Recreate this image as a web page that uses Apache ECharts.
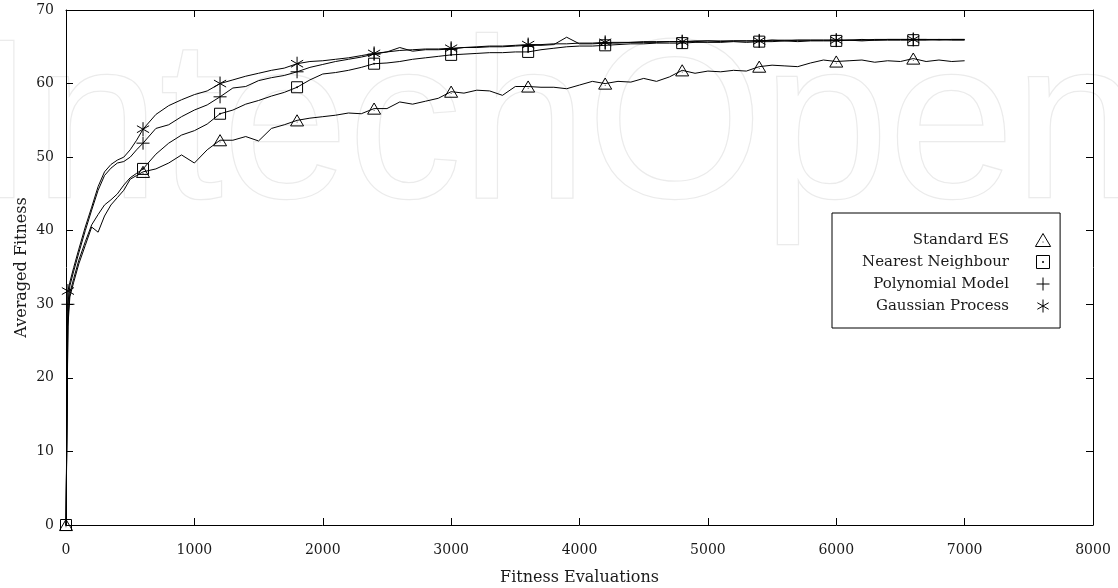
<!DOCTYPE html>
<html>
<head>
<meta charset="utf-8">
<script src="https://cdn.jsdelivr.net/npm/echarts@6/dist/echarts.min.js"></script>
<style>
html,body{margin:0;padding:0;background:#fff;}
#c{width:1118px;height:588px;}
</style>
</head>
<body>
<div id="c"></div>
<script>
// ---- data ----
const X = [0, 15, 30, 60, 100, 150, 200, 250, 300, 350, 400, 450, 500, 550, 600,
  700, 800, 900, 1000, 1100, 1200, 1300, 1400, 1500, 1600,
  1700, 1800, 1900, 2000, 2100, 2200, 2300, 2400, 2500, 2600,
  2700, 2800, 2900, 3000, 3100, 3200, 3300, 3400, 3500, 3600,
  3700, 3800, 3900, 4000, 4100, 4200, 4300, 4400, 4500, 4600,
  4700, 4800, 4900, 5000, 5100, 5200, 5300, 5400, 5500, 5600,
  5700, 5800, 5900, 6000, 6100, 6200, 6300, 6400, 6500, 6600,
  6700, 6800, 6900, 7000];

const standardES = [0, 27, 31, 33, 35.5, 38, 40.5, 39.8, 42.0, 43.5, 44.5, 45.5, 47.0, 47.5, 48.0,
  48.4, 49.2, 50.3, 49.2, 51.0, 52.3, 52.3, 52.8, 52.2, 53.9,
  54.4, 55.0, 55.3, 55.5, 55.7, 56.0, 55.9, 56.6, 56.6, 57.5,
  57.2, 57.6, 58.0, 58.9, 58.7, 59.1, 59.0, 58.4, 59.6, 59.6,
  59.5, 59.5, 59.3, 59.8, 60.3, 60.0, 60.3, 60.2, 60.7, 60.3,
  60.9, 61.8, 61.4, 61.7, 61.6, 61.8, 61.7, 62.3, 62.5, 62.4,
  62.3, 62.8, 63.2, 63.0, 63.1, 63.2, 62.9, 63.1, 63.0, 63.4,
  63.0, 63.2, 63.0, 63.1];

const nearestNeighbour = [0, 28, 31.5, 33.5, 36, 38.5, 40.8, 42.2, 43.5, 44.2, 45.0, 46.2, 47.2, 47.8, 48.4,
  50.4, 51.9, 53.0, 53.6, 54.5, 55.9, 56.4, 57.2, 57.7, 58.3,
  58.8, 59.5, 60.5, 61.3, 61.5, 61.8, 62.2, 62.7, 62.8, 63.0,
  63.3, 63.5, 63.7, 63.9, 64.0, 64.1, 64.2, 64.2, 64.3, 64.3,
  64.6, 64.8, 65.0, 65.1, 65.1, 65.2, 65.3, 65.4, 65.4, 65.5,
  65.5, 65.5, 65.6, 65.6, 65.6, 65.7, 65.6, 65.7, 65.7, 65.8,
  65.7, 65.8, 65.8, 65.8, 65.9, 65.8, 65.9, 65.9, 65.9, 65.9,
  65.9, 66.0, 65.9, 65.9];

const polynomialModel = [0, 30, 32.5, 34.5, 37, 40, 42.8, 45.5, 47.5, 48.5, 49.2, 49.4, 50.0, 51.0, 51.9,
  53.9, 54.4, 55.5, 56.4, 57.1, 58.2, 59.4, 59.6, 60.4, 60.8,
  61.1, 61.6, 62.2, 62.6, 63.0, 63.3, 63.6, 64.0, 64.3, 64.9,
  64.4, 64.6, 64.6, 64.7, 64.9, 64.9, 65.0, 65.0, 65.1, 65.2,
  65.2, 65.3, 66.3, 65.4, 65.4, 65.5, 65.5, 65.6, 65.6, 65.6,
  65.7, 65.7, 65.7, 65.8, 65.7, 65.8, 65.8, 65.8, 65.9, 65.8,
  65.9, 65.9, 65.9, 65.9, 65.9, 66.0, 65.9, 66.0, 66.0, 66.0,
  66.0, 65.9, 66.0, 66.0];

const gaussianProcess = [0, 31.8, 33, 35, 37.5, 40.5, 43.2, 46, 48.0, 49.0, 49.6, 50.0, 51.0, 52.3, 53.8,
  55.8, 57.0, 57.8, 58.5, 59.0, 60.0, 60.5, 61.0, 61.4, 61.8,
  62.1, 62.7, 63.0, 63.1, 63.3, 63.5, 63.8, 64.1, 64.3, 64.5,
  64.6, 64.7, 64.7, 64.8, 64.9, 65.0, 65.1, 65.1, 65.2, 65.3,
  65.3, 65.4, 65.4, 65.5, 65.5, 65.6, 65.6, 65.6, 65.7, 65.7,
  65.7, 65.7, 65.8, 65.8, 65.8, 65.8, 65.8, 65.8, 65.9, 65.9,
  65.9, 65.9, 65.9, 65.9, 65.9, 65.9, 66.0, 66.0, 66.0, 66.0,
  66.0, 66.0, 66.0, 66.0];

const seriesNames = ['Standard ES', 'Nearest Neighbour', 'Polynomial Model', 'Gaussian Process'];
const markerXA = [0, 600, 1200, 1800, 2400, 3000, 3600, 4200, 4800, 5400, 6000, 6600];
const markerXB = [15, 600, 1200, 1800, 2400, 3000, 3600, 4200, 4800, 5400, 6000, 6600];
const xTicks = [0, 8000, 1000];
const yTicks = [0, 70, 10];

// ---- style ----
const FONT = "'DejaVu Serif', serif";
const TXT = '#1a1a1a';
const SYM = {
  tri: 'path://M0,-1.1 L1.05,0.7 L-1.05,0.7 Z M-0.06,0.08 L0.06,0.08',
  sq: 'path://M-1,-1 L1,-1 L1,1 L-1,1 Z M-0.08,-0.08 L0.08,-0.08 L0.08,0.08 L-0.08,0.08 Z',
  plus: 'path://M0,-1 L0,1 M-1,0 L1,0',
  star: 'path://M0,-1 L0,1 M-0.87,-0.5 L0.87,0.5 M-0.87,0.5 L0.87,-0.5'
};
const symbols = [SYM.tri, SYM.sq, SYM.plus, SYM.star];
const sizes = [13, 11, 13, 14];
const values = [standardES, nearestNeighbour, polynomialModel, gaussianProcess];
const markerSets = [markerXA, markerXA, markerXB, markerXB];

const series = seriesNames.map((name, k) => {
  const set = new Set(markerSets[k]);
  return {
    name: name,
    type: 'line',
    xAxisIndex: 0,
    yAxisIndex: 0,
    data: X.map((x, i) => [x, values[k][i]]),
    symbol: (v) => set.has(v[0]) ? symbols[k] : 'none',
    symbolSize: sizes[k],
    symbolKeepAspect: true,
    showSymbol: true,
    showAllSymbol: true,
    lineStyle: { color: '#000', width: 1 },
    itemStyle: { color: 'rgba(0,0,0,0)', borderColor: '#000', borderWidth: 1 },
    emphasis: { disabled: true },
    z: 3
  };
});

function axisCommon(t) {
  return {
    type: 'value', min: t[0], max: t[1], interval: t[2],
    axisLine: { show: true, onZero: false, lineStyle: { color: '#000', width: 1 } },
    axisTick: { show: true, inside: true, length: 7, lineStyle: { color: '#000', width: 1 } },
    splitLine: { show: false }
  };
}

const chart = echarts.init(document.getElementById('c'), null, { renderer: 'canvas' });
chart.setOption({
  animation: false,
  backgroundColor: '#fff',
  grid: { left: 66, right: 25, top: 10, bottom: 63, show: false,
    containLabel: false, outerBoundsMode: 'none' },
  graphic: [{
    type: 'text', left: -30, top: 20, z: -10, silent: true,
    style: { text: 'IntechOpen', font: "226px 'Liberation Sans', sans-serif",
      fill: '#ffffff', stroke: '#ebebeb', lineWidth: 2.5 }
  }],
  xAxis: [
    Object.assign(axisCommon(xTicks), {
      position: 'bottom',
      axisLabel: { show: true, margin: 18, fontFamily: FONT, fontSize: 14, color: TXT,
        formatter: (v) => String(v) },
      name: 'Fitness Evaluations', nameLocation: 'middle', nameGap: 45, nameMoveOverlap: false,
      nameTextStyle: { fontFamily: FONT, fontSize: 16, color: TXT }
    }),
    Object.assign(axisCommon(xTicks), { position: 'top', axisLabel: { show: false } })
  ],
  yAxis: [
    Object.assign(axisCommon(yTicks), {
      position: 'left',
      axisLabel: { show: true, margin: 12, fontFamily: FONT, fontSize: 14, color: TXT,
        formatter: (v) => String(v) },
      name: 'Averaged Fitness', nameLocation: 'middle', nameGap: 36, nameMoveOverlap: false,
      nameTextStyle: { fontFamily: FONT, fontSize: 16, color: TXT }
    }),
    Object.assign(axisCommon(yTicks), { position: 'right', axisLabel: { show: false } })
  ],
  legend: {
    orient: 'vertical', left: 832, top: 213, align: 'right',
    itemWidth: 58, itemHeight: 13, itemGap: 4,
    padding: [18, 9, 13, 30],
    borderColor: '#000', borderWidth: 1, backgroundColor: '#fff',
    symbolKeepAspect: true,
    itemStyle: { color: 'rgba(0,0,0,0)', borderColor: '#000', borderWidth: 1 },
    textStyle: { fontFamily: FONT, fontSize: 15, color: TXT, lineHeight: 18 },
    data: seriesNames.map((n, k) => ({ name: n, icon: symbols[k] })),
    selectedMode: false
  },
  series: series
});
</script>
</body>
</html>
